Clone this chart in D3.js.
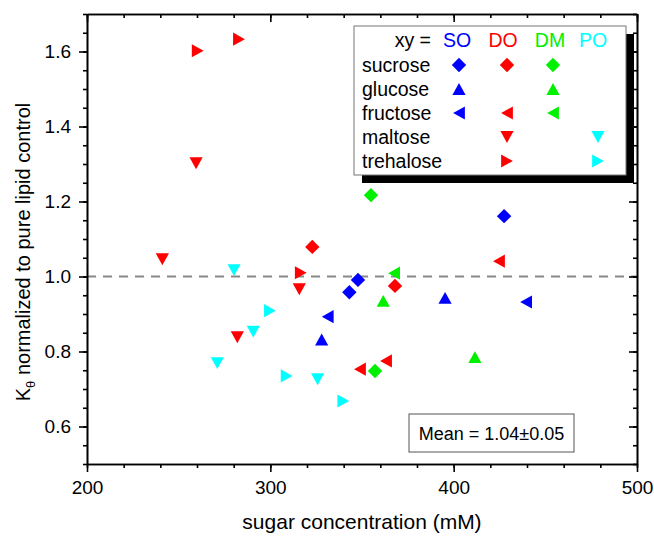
<!DOCTYPE html>
<html>
<head>
<meta charset="utf-8">
<script src="https://cdn.jsdelivr.net/npm/d3@7"></script>
<style>
  body { margin: 0; background: #fff; }
  svg text { font-family: "Liberation Sans", Arial, sans-serif; fill: #000; }
  .axis path, .axis line { stroke: #000; stroke-width: 1.6; }
  .axis text { font-size: 19px; }
</style>
</head>
<body>
<div class="canvas"></div>
<script>
// data: [concentration mM, K normalized]
const SO_sucrose = [[343.1, 0.958], [347.8, 0.991], [427.5, 1.161]]
const SO_glucose = [[328.0, 0.832], [395.3, 0.943]]
const SO_fructose = [[331.3, 0.893], [439.5, 0.932]]

const DO_sucrose = [[322.9, 1.079], [368.0, 0.975]]
const DO_fructose = [[348.9, 0.753], [363.1, 0.775], [424.7, 1.041]]
const DO_maltose = [[241.1, 1.046], [259.5, 1.302], [282.0, 0.838], [315.8, 0.966]]
const DO_trehalose = [[260.4, 1.602], [282.9, 1.633], [316.6, 1.010]]

const DM_sucrose = [[354.9, 1.217], [357.1, 0.748]]
const DM_glucose = [[361.6, 0.935], [411.6, 0.785]]
const DM_fructose = [[367.5, 1.009]]

const PO_maltose = [[271.1, 0.769], [280.2, 1.017], [290.7, 0.853], [325.8, 0.726]]
const PO_trehalose = [[299.8, 0.909], [308.9, 0.735], [339.8, 0.668]]

const lipids = ['SO', 'DO', 'DM', 'PO']
const sugars = ['sucrose', 'glucose', 'fructose', 'maltose', 'trehalose']
const xTicks = [200, 300, 400, 500]
const yTicks = [0.6, 0.8, 1.0, 1.2, 1.4, 1.6]
const refLine = 1.0
const meanText = 'Mean = 1.04\u00B10.05'

const series = {
    SO: { sucrose: SO_sucrose, glucose: SO_glucose, fructose: SO_fructose },
    DO: { sucrose: DO_sucrose, fructose: DO_fructose, maltose: DO_maltose, trehalose: DO_trehalose },
    DM: { sucrose: DM_sucrose, glucose: DM_glucose, fructose: DM_fructose },
    PO: { maltose: PO_maltose, trehalose: PO_trehalose }
}

const colors = { SO: '#0000ff', DO: '#ff0000', DM: '#00f000', PO: '#00ffff' }

// marker shapes, centered on the point
function shape(sugar) {
    let d = 7.2, b = 6.6, h = 5.9
    switch (sugar) {
        case 'sucrose': return `M0,${-d}L${d},0L0,${d}L${-d},0Z`
        case 'glucose': return `M0,${-h}L${b},${h}L${-b},${h}Z`
        case 'fructose': return `M${-h},0L${h},${-b}L${h},${b}Z`
        case 'maltose': return `M0,${h}L${b},${-h}L${-b},${-h}Z`
        case 'trehalose': return `M${h},0L${-h},${-b}L${-h},${b}Z`
    }
}

let width = 654,
    height = 537,
    pLeft = 87, pRight = 637, pTop = 14, pBottom = 464

let svg = d3.select('.canvas').append('svg')
    .attr('width', width)
    .attr('height', height)

let x = d3.scaleLinear().domain([200, 500]).range([pLeft, pRight])
let y = d3.scaleLinear().domain([0.5, 1.7]).range([pBottom, pTop])

// dashed reference
svg.append('line')
    .attr('x1', x(200)).attr('x2', x(500))
    .attr('y1', y(refLine)).attr('y2', y(refLine))
    .attr('stroke', '#888').attr('stroke-width', 2)
    .attr('stroke-dasharray', '9,7')

// AXES
let xMinor = d3.range(200, 501, 20)
let yMinor = d3.range(0.5, 1.701, 0.05)

function addAxis(axis, tx, ty) {
    let g = svg.append('g').classed('axis', true)
        .attr('transform', `translate(${tx},${ty})`)
        .call(axis)
    g.select('.domain').attr('fill', 'none')
    return g
}

addAxis(d3.axisBottom(x).tickValues(xMinor).tickSize(4).tickFormat('').tickSizeOuter(0), 0, pBottom)
addAxis(d3.axisBottom(x).tickValues(xTicks).tickSize(8).tickPadding(9).tickSizeOuter(0), 0, pBottom)
addAxis(d3.axisBottom(x).tickValues(xMinor).tickSize(4).tickFormat('').tickSizeOuter(0), 0, pTop)
addAxis(d3.axisBottom(x).tickValues(xTicks).tickSize(8).tickFormat('').tickSizeOuter(0), 0, pTop)

addAxis(d3.axisLeft(y).tickValues(yMinor).tickSize(4).tickFormat('').tickSizeOuter(0), pLeft, 0)
addAxis(d3.axisLeft(y).tickValues(yTicks).tickSize(8).tickPadding(8).tickFormat(d3.format('.1f')).tickSizeOuter(0), pLeft, 0)
addAxis(d3.axisLeft(y).tickValues(yMinor).tickSize(4).tickFormat('').tickSizeOuter(0), pRight, 0)
addAxis(d3.axisLeft(y).tickValues(yTicks).tickSize(8).tickFormat('').tickSizeOuter(0), pRight, 0)

// LABELS
svg.append('text')
    .attr('x', (pLeft + pRight) / 2)
    .attr('y', 529)
    .attr('text-anchor', 'middle')
    .style('font-size', '21px')
    .text('sugar concentration (mM)')

let yLabel = svg.append('text')
    .attr('transform', `translate(30,${(pTop + pBottom) / 2 + 13}) rotate(-90)`)
    .attr('text-anchor', 'middle')
    .style('font-size', '20px')
yLabel.append('tspan').text('K')
yLabel.append('tspan').text('\u03B8').attr('dy', 5).style('font-size', '13px')
yLabel.append('tspan').text(' normalized to pure lipid control').attr('dy', -5)

// POINTS
lipids.forEach(lipid => {
    sugars.forEach(sugar => {
        let pts = series[lipid][sugar]
        if (!pts) return
        svg.selectAll(null)
            .data(pts)
            .enter().append('path')
            .attr('d', shape(sugar))
            .attr('fill', colors[lipid])
            .attr('transform', d => `translate(${x(d[0])},${y(d[1])})`)
    })
})

// LEGEND
let lg = svg.append('g')
lg.append('rect')
    .attr('x', 362).attr('y', 34).attr('width', 272).attr('height', 149)
    .attr('fill', '#000')
lg.append('rect')
    .attr('x', 354).attr('y', 26).attr('width', 272).attr('height', 149)
    .attr('fill', '#fff').attr('stroke', '#777').attr('stroke-width', 1)

let colX = { SO: 459, DO: 507, DM: 553, PO: 598 }
let headX = { SO: 457, DO: 503, DM: 550, PO: 593 }

lg.append('text')
    .attr('x', 431).attr('y', 47)
    .attr('text-anchor', 'end')
    .style('font-size', '19.5px')
    .text('xy =')
lipids.forEach(lipid => {
    lg.append('text')
        .attr('x', headX[lipid]).attr('y', 47)
        .attr('text-anchor', 'middle')
        .style('font-size', '19.5px')
        .style('fill', colors[lipid])
        .text(lipid)
})
sugars.forEach((sugar, i) => {
    let by = 72 + i * 24
    lg.append('text')
        .attr('x', 362).attr('y', by)
        .style('font-size', '19.5px')
        .text(sugar)
    lipids.forEach(lipid => {
        if (!series[lipid][sugar]) return
        lg.append('path')
            .attr('d', shape(sugar))
            .attr('fill', colors[lipid])
            .attr('transform', `translate(${colX[lipid]},${by - 7})`)
    })
})

// MEAN BOX
svg.append('rect')
    .attr('x', 409).attr('y', 414).attr('width', 165).attr('height', 38)
    .attr('fill', '#fff').attr('stroke', '#555').attr('stroke-width', 1)
svg.append('text')
    .attr('x', 491.5).attr('y', 440)
    .attr('text-anchor', 'middle')
    .style('font-size', '18px')
    .text(meanText)
</script>
</body>
</html>
